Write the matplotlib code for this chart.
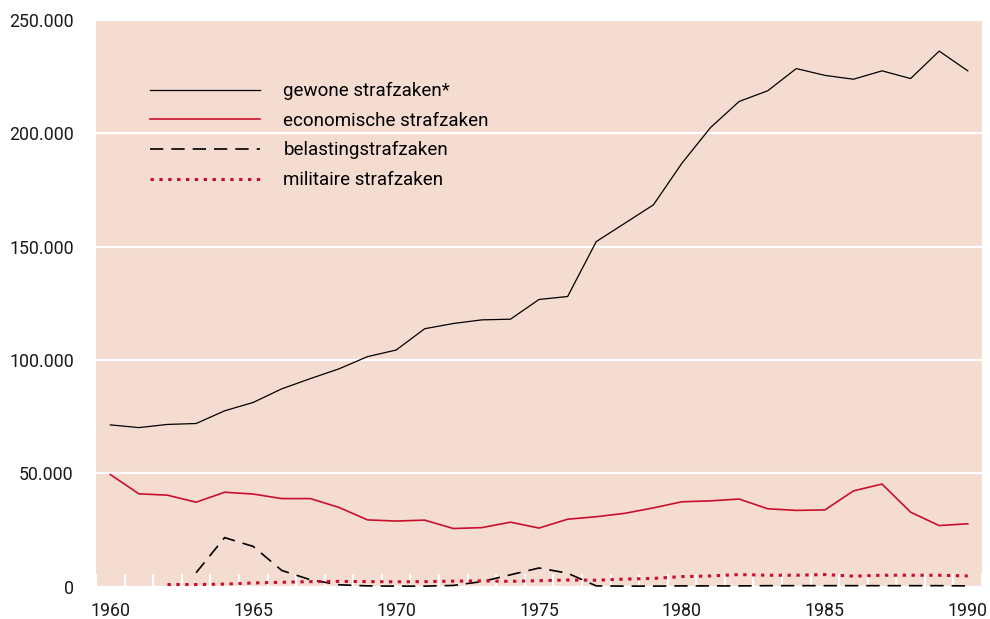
import matplotlib
matplotlib.use('Agg')
import matplotlib.pyplot as plt
from matplotlib.ticker import FuncFormatter, MultipleLocator

plt.rcParams['font.family'] = ['Roboto', 'DejaVu Sans']

# data
jaren = list(range(1960, 1991))
gewone = [71400, 70200, 71600, 72000, 77600, 81300, 87300, 91800, 96100, 101500,
          104400, 113800, 116100, 117700, 118000, 126700, 128000, 152200, 160300, 168400,
          186800, 202500, 214000, 218700, 228500, 225500, 223800, 227500, 224100, 236200,
          227500]
economische = [49500, 41000, 40400, 37300, 41700, 40900, 38900, 38900, 35000, 29500,
               29000, 29400, 25700, 26100, 28500, 25900, 29800, 30900, 32400, 34800,
               37500, 37900, 38700, 34400, 33700, 33900, 42300, 45300, 32900, 27000,
               27800]
jaren_belasting = list(range(1963, 1991))
belasting = [6200, 21700, 17800, 7200, 3100, 900, 400, 300, 300, 600,
             2300, 5300, 8300, 6000, 400, 300, 300, 400, 400, 400,
             500, 500, 500, 500, 500, 500, 500, 400]
jaren_militair = list(range(1962, 1991))
militair = [1000, 1000, 1200, 1700, 2000, 2300, 2400, 2300, 2200, 2300,
            2500, 2600, 2400, 2700, 3000, 2900, 3400, 3700, 4500, 4800,
            5400, 5100, 5100, 5400, 4700, 5100, 5100, 5100, 4800]

labels = ['gewone strafzaken*', 'economische strafzaken',
          'belastingstrafzaken', 'militaire strafzaken']

rood = '#c8102e'
achtergrond = '#f5dcd1'

fig = plt.figure(figsize=(9.9, 6.19), dpi=100)
ax = fig.add_axes([0.097, 0.052, 0.895, 0.916])
ax.set_facecolor(achtergrond)

ax.plot(jaren, gewone, color='black', lw=0.9, label=labels[0])
ax.plot(jaren, economische, color=rood, lw=1.2, label=labels[1])
ax.plot(jaren_belasting, belasting, color='black', lw=1.2,
        dashes=(8, 4.8), label=labels[2])
ax.plot(jaren_militair, militair, color=rood, lw=2.2,
        dashes=(1.1, 1.8), label=labels[3])

ax.set_xlim(1959.5, 1990.5)
ax.set_ylim(0, 250000)
ax.xaxis.set_major_locator(MultipleLocator(5))
ax.yaxis.set_major_locator(MultipleLocator(50000))
ax.xaxis.set_minor_locator(MultipleLocator(1, offset=0.5))
ax.yaxis.set_major_formatter(FuncFormatter(lambda v, p: f'{int(v):,}'.replace(',', '.')))

ax.grid(axis='y', color='white', lw=1.6)
for s in ax.spines.values():
    s.set_visible(False)

ax.tick_params(axis='both', which='major', length=0, labelsize=12.8, colors='#1a1a1a')
ax.tick_params(axis='y', pad=16)
ax.tick_params(axis='x', pad=11)
ax.tick_params(axis='x', which='minor', direction='in', length=9.5, width=1.5, color='white')

ax.legend(loc='upper left', bbox_to_anchor=(0.0415, 0.92), frameon=False,
          fontsize=13.5, handlelength=5.9, handletextpad=1.23, labelspacing=0.62)

fig.savefig('out.png', dpi=100)
